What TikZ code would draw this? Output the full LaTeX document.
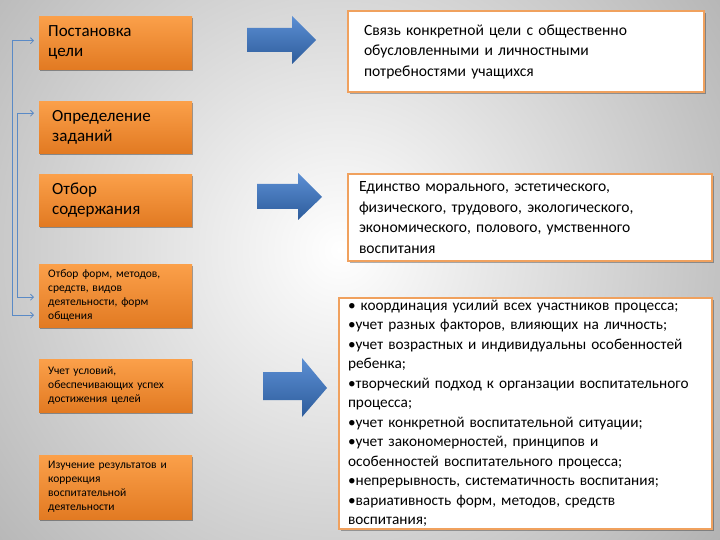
\documentclass[tikz,border=0pt]{standalone}
\usepackage{fontspec}
\setmainfont{Carlito}
\usetikzlibrary{arrows.meta,shadows}
\definecolor{orangetop}{HTML}{FBA04A}
\definecolor{orangebot}{HTML}{E27A22}
\definecolor{framecol}{HTML}{F0A15E}
\definecolor{linkblue}{HTML}{5A8AC6}
\definecolor{arrtop}{HTML}{5C8FD4}
\definecolor{arrbot}{HTML}{2D5C9B}
\definecolor{bgedge}{HTML}{808080}
\begin{document}
\begin{tikzpicture}[x=1pt,y=-1pt,
    stepbox/.style={anchor=north west, top color=orangetop, bottom color=orangebot,
        minimum width=153pt, inner xsep=9pt, inner ysep=0pt, text width=135pt, align=left,
        drop shadow={shadow xshift=1pt, shadow yshift=-2pt, fill=black, opacity=0.35}},
    bigtext/.style={font=\fontsize{17}{20}\selectfont},
    smalltext/.style={font=\fontsize{11.5}{14}\selectfont},
    infobox/.style={anchor=north west, fill=white, draw=framecol, line width=2pt,
        inner ysep=0pt, align=left, font=\fontsize{15.6}{20.5}\selectfont,
        drop shadow={shadow xshift=2pt, shadow yshift=-2pt, fill=black, opacity=0.3}},
    link/.style={draw=linkblue, line width=0.8pt, shorten <=5pt, shorten >=5pt,
        {Straight Barb[length=3pt,width=6pt]}-{Straight Barb[length=3pt,width=6pt]}},
    blockarrow/.style={top color=arrtop, bottom color=arrbot, draw=none}
]
\useasboundingbox (0,0) rectangle (720,540);
% background
\begin{scope}
    \clip (0,0) rectangle (720,540);
    \shade[inner color=white, outer color=bgedge] (340,250) circle (800pt);
\end{scope}

% steps
\node[stepbox, bigtext, minimum height=53pt] (b1) at (39,16) {Постановка\\цели};
\node[stepbox, bigtext, minimum height=52pt, inner xsep=13pt, text width=127pt] (b2) at (39,101) {Определение\\заданий};
\node[stepbox, bigtext, minimum height=52pt, inner xsep=13pt, text width=127pt] (b3) at (39,174) {Отбор\\содержания};
\node[stepbox, smalltext, minimum height=63pt] (b4) at (39,264) {Отбор форм, методов,\\средств, видов\\деятельности, форм\\общения};
\node[stepbox, smalltext, minimum height=53pt] (b5) at (39,359) {Учет условий,\\обеспечивающих успех\\достижения целей};
\node[stepbox, smalltext, minimum height=64pt] (b6) at (39,455) {Изучение результатов и\\коррекция\\воспитательной\\деятельности};

% links
\draw[link] ([yshift=2pt]b1.west) -- ++(-27,0) |- ([yshift=-19.5pt]b4.west);
\draw[link] ([yshift=14pt]b2.west) -- ++(-22,0) |- ([yshift=-1.5pt]b4.west);

% block arrows
\shade[blockarrow] (247,28) -- (292,28) -- (292,16) -- (316,40) -- (292,64) -- (292,52) -- (247,52) -- cycle;
\shade[blockarrow] (257,184) -- (298,184) -- (298,173) -- (322,197) -- (298,220) -- (298,209) -- (257,209) -- cycle;
\shade[blockarrow] (263,372) -- (302,372) -- (302,358) -- (327,388) -- (302,417) -- (302,400) -- (263,400) -- cycle;

% info boxes
\node[infobox, minimum width=356pt, minimum height=81pt, inner xsep=16pt, text width=324pt] (w1) at (347,10)
    {Связь конкретной цели с общественно\\обусловленными и личностными\\потребностями учащихся};
\node[infobox, minimum width=364pt, minimum height=87pt, inner xsep=11pt, text width=342pt] (w2) at (347,173)
    {Единство морального, эстетического,\\физического, трудового, экологического,\\экономического, полового, умственного\\воспитания};
\node[infobox, minimum width=373pt, minimum height=231pt, inner xsep=9pt, text width=355pt,
    font=\fontsize{15.3}{19.5}\selectfont] (w3) at (338,297)
    {• координация усилий всех участников процесса;\\
     •учет разных факторов, влияющих на личность;\\
     •учет возрастных и индивидуальны особенностей\\
     ребенка;\\
     •творческий подход к органзации воспитательного\\
     процесса;\\
     •учет конкретной воспитательной ситуации;\\
     •учет закономерностей, принципов и\\
     особенностей воспитательного процесса;\\
     •непрерывность, систематичность воспитания;\\
     •вариативность форм, методов, средств\\
     воспитания;};
\end{tikzpicture}
\end{document}
